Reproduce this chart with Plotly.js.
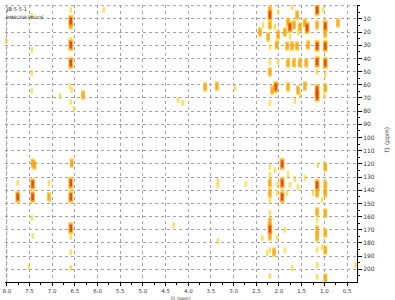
<!DOCTYPE html>
<html>
<head>
<meta charset="utf-8">
<script src="https://cdn.plot.ly/plotly-3.0.1.min.js"></script>
<style>html,body{margin:0;padding:0;background:#fff;}#chart{width:395px;height:300px;}</style>
</head>
<body>
<div id="chart"></div>
<script>
// Tick labels
const xTicks = [8.0,7.5,7.0,6.5,6.0,5.5,5.0,4.5,4.0,3.5,3.0,2.5,2.0,1.5,1.0,0.5];
const yTicks = [10,20,30,40,50,60,70,80,90,100,110,120,130,140,150,160,170,180,190,200];
const sampleName = "JB-5-5-1";
const experiment = "HMBCGPLPNDQF";

// Cross peaks: f2 (1H, ppm), f1 (13C, ppm), intensity level (1 weak, 2 medium, 3 strong)
const peakF2 = [
  7.45,6.59,6.59,6.59,6.59,6.59,7.45,8.02,6.59,7.45,6.61,6.57,7.45,6.83,6.32,6.59,6.52,5.86,
  7.43,7.39,6.57,7.76,7.43,7.07,6.59,6.59,7.76,7.43,7.07,6.59,7.45,6.59,7.43,6.59,6.59,6.59,7.51,
  4.23,4.12,3.63,3.37,2.97,3.35,3.35,2.73,3.35,4.32,0.32,
  2.20,2.20,2.02,1.71,1.60,1.16,1.03,2.35,2.20,2.09,1.80,1.76,1.67,1.54,1.43,1.38,1.16,0.98,0.98,0.70,
  2.42,2.02,1.87,1.58,2.24,1.76,1.16,0.98,2.05,1.82,1.71,1.60,1.36,2.20,1.16,0.98,1.80,1.67,1.54,1.40,
  2.02,2.20,2.20,1.16,0.98,2.07,2.15,1.80,1.58,1.54,1.43,1.16,1.16,0.98,1.00,2.20,1.65,
  1.93,2.20,2.09,1.14,0.98,2.20,1.80,1.65,1.43,1.93,2.04,2.20,1.76,1.16,0.98,1.58,1.93,2.20,2.04,1.82,
  1.16,0.98,1.25,2.20,1.05,2.20,1.16,0.98,1.16,2.20,2.20,2.20,1.16,1.16,0.98,2.37,2.04,1.87,2.20,2.11,
  2.26,1.87,1.16,1.05,0.98,1.71,1.16,2.20,0.98,1.16
];
const peakF1 = [
  7.8,3.3,11.6,14.6,26,29.8,33.6,26.8,43.5,51,61,64,64.7,68.5,67.8,73,78.4,3.3,
  119.4,121,119.4,134.5,135.3,134.5,134.5,140,145.1,145.1,145.1,145.1,161,168.8,174.7,175.5,187,199,198.3,
  71.5,73.8,61.7,61,62.4,133,178.5,135.3,136.5,166.5,196.7,
  3.3,7.1,4.8,1,7.1,3.3,3.3,14.6,14.6,16.2,12.4,16.2,14.6,16.2,13.1,16.9,14.6,15.4,20.7,13.1,
  20,22.2,20,20.7,23.7,23.7,30.6,30.6,29.8,30.6,30.6,30.6,29.8,31.3,42.7,43.5,43.5,43.5,43.5,43.5,
  42.7,42.7,50.3,50.3,52.6,61.7,64,61.7,64,67.8,61,64,68.5,62.4,68.5,73.8,72.3,
  120.1,122.4,124.7,120.9,122.4,128.4,127.7,131.5,130.7,134.5,136,134.5,136,136,136,137.6,145.1,142.1,142.1,142.1,
  142.1,142.1,142.1,147.4,147.4,157.3,156.5,157.3,162.6,169.4,164,174.7,170.2,175.5,172.5,176.2,176.2,170.2,185.4,186.9,
  187.6,185.4,185.4,183.1,185.4,199,196.7,205.1,206.6,205.8
];
const peakLevel = [
  1,1,3,2,1,3,1,1,3,1,1,1,1,1,2,1,1,1,
  2,2,2,1,3,1,3,1,3,3,2,3,1,3,1,1,1,1,1,
  1,1,2,2,1,1,1,1,1,1,1,
  2,3,1,1,2,3,1,1,2,1,2,3,2,2,2,3,2,3,2,2,
  2,2,2,1,2,1,3,3,2,2,2,2,2,1,3,3,2,2,2,2,
  1,1,2,1,1,3,2,2,2,1,2,3,3,2,1,1,1,
  3,1,1,1,2,1,1,1,1,3,1,2,1,3,2,1,3,2,1,1,
  2,2,1,1,1,1,2,2,1,3,2,2,2,2,2,1,1,1,1,2,
  1,1,1,1,2,1,1,1,2,1
];

function layer(minLevel, color, lenFn, widFn) {
  const xs = [], ys = [], sz = [], wd = [];
  for (let i = 0; i < peakF2.length; i++) {
    if (peakLevel[i] >= minLevel) {
      xs.push(peakF2[i]); ys.push(peakF1[i]);
      sz.push(lenFn(peakLevel[i])); wd.push(widFn(peakLevel[i]));
    }
  }
  return {
    type: 'scatter', mode: 'markers', x: xs, y: ys, hoverinfo: 'skip',
    marker: {symbol: 'line-ns', size: sz, color: color, line: {color: color, width: wd}}
  };
}

const traces = [
  layer(1, '#ffd21a', l => l === 1 ? 4 : (l === 2 ? 7 : 9), l => l === 1 ? 2.5 : (l === 2 ? 4 : 5)),
  layer(2, '#f7941d', l => l === 2 ? 5 : 7, l => l === 2 ? 3 : 4),
  layer(3, '#d7261e', l => 5, l => 2.5)
];

const gridCol = '#a79fb3';
const layout = {
  width: 395, height: 300,
  margin: {l: 5, r: 38, t: 5, b: 18},
  paper_bgcolor: '#fff', plot_bgcolor: '#fff',
  showlegend: false,
  font: {family: 'DejaVu Sans, Arial, sans-serif', size: 6, color: '#333'},
  xaxis: {
    range: [8.04, 0.28], tickvals: xTicks, ticktext: xTicks.map(v => v.toFixed(1)),
    ticks: 'outside', ticklen: 3, tickcolor: '#000', tickwidth: 1,
    showline: true, linecolor: '#000', linewidth: 1,
    showgrid: true, gridcolor: gridCol, griddash: 'dot', gridwidth: 1, zeroline: false,
    tickfont: {size: 5.5, color: '#333'},
    minor: {dtick: 0.25, tick0: 0, ticks: 'outside', ticklen: 2, tickcolor: '#000', showgrid: false}
  },
  yaxis: {
    side: 'right', range: [209.6, -0.5],
    tickvals: yTicks, ticktext: yTicks.map(String),
    ticks: 'outside', ticklen: 4, tickcolor: '#000', tickwidth: 1,
    showline: true, linecolor: '#000', linewidth: 1,
    showgrid: true, gridcolor: gridCol, griddash: 'dot', gridwidth: 1, zeroline: false,
    tickfont: {size: 6, color: '#333'},
    minor: {dtick: 5, tick0: 0, ticks: 'outside', ticklen: 2, tickcolor: '#000', showgrid: false}
  },
  shapes: [
    {type: 'line', xref: 'x', yref: 'paper', x0: 8.0, x1: 8.0, y0: 0, y1: 1, line: {color: gridCol, width: 1, dash: 'dot'}, layer: 'below'},
    {type: 'line', xref: 'paper', yref: 'y', x0: 0, x1: 1, y0: 0, y1: 0, line: {color: gridCol, width: 1, dash: 'dot'}, layer: 'below'}
  ],
  annotations: [
    {text: sampleName, xref: 'paper', yref: 'paper', x: -0.003, y: 0.985, xanchor: 'left', yanchor: 'middle', showarrow: false, font: {size: 5, color: '#333'}},
    {text: experiment, xref: 'paper', yref: 'paper', x: -0.003, y: 0.955, xanchor: 'left', yanchor: 'middle', showarrow: false, font: {size: 4.5, color: '#333'}},
    {text: 'f2 (ppm)', xref: 'paper', yref: 'paper', x: 0.50, y: -0.058, xanchor: 'center', yanchor: 'middle', showarrow: false, font: {size: 4.5, color: '#333'}},
    {text: 'f1 (ppm)', xref: 'paper', yref: 'paper', x: 1.085, y: 0.513, xanchor: 'center', yanchor: 'middle', textangle: -90, showarrow: false, font: {size: 6, color: '#333'}}
  ]
};

Plotly.newPlot('chart', traces, layout, {staticPlot: true, displayModeBar: false});
</script>
</body>
</html>
